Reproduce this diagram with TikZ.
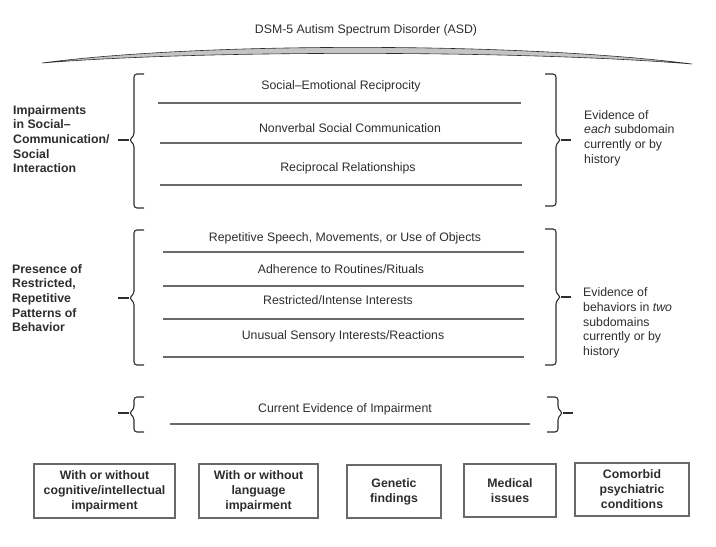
\documentclass[tikz,border=0pt]{standalone}
\usepackage{fontspec}
\setmainfont{Liberation Sans}
\usepackage{tikz}
\usetikzlibrary{positioning}
\definecolor{myink}{RGB}{45,45,45}
\definecolor{myrule}{RGB}{105,105,105}
\definecolor{myarc}{RGB}{196,196,196}
\tikzstyle{itemtext}=[text=myink,font=\fontsize{12.3}{14.7}\selectfont,inner sep=0pt]
\tikzstyle{domainlabel}=[text=myink,font=\fontsize{12.3}{14.7}\selectfont\bfseries,align=left,anchor=west,inner sep=0pt]
\tikzstyle{evidence}=[text=myink,font=\fontsize{12.3}{14.7}\selectfont,align=left,anchor=west,inner sep=0pt]
\tikzstyle{specifier}=[draw=myrule,line width=1.1pt,text=myink,font=\fontsize{12.3}{15}\selectfont\bfseries,align=center,inner sep=0pt]
\tikzstyle{itemrule}=[myrule,line width=1.2pt]
\tikzstyle{brktline}=[myink,line width=1.1pt,rounded corners=3pt]
% x, top, middle, bottom
\newcommand{\leftbrkt}[4]{%
  \draw[brktline] (#1+10,#2) -- (#1,#2) -- (#1,#3-4) -- (#1-5,#3) -- (#1,#3+4) -- (#1,#4) -- (#1+10,#4);
  \draw[brktline] (#1-5,#3) -- (#1-16,#3);}
\newcommand{\rightbrkt}[4]{%
  \draw[brktline] (#1-11,#2) -- (#1,#2) -- (#1,#3-4) -- (#1+5,#3) -- (#1,#3+4) -- (#1,#4) -- (#1-11,#4);
  \draw[brktline] (#1+5,#3) -- (#1+15,#3);}

\begin{document}
\begin{tikzpicture}[x=1pt,y=-1pt]
\useasboundingbox (0,0) rectangle (716,547);

% heading
\node [itemtext] (asd) at (366,30) {DSM-5 Autism Spectrum Disorder (ASD)};
\draw [myink,fill=myarc,line width=0.6pt] (42,63) .. controls (200,42) and (520,42) .. (692,64)
  .. controls (520,50) and (200,50) .. (42,63) -- cycle;

% social communication
\node [domainlabel] (social) at (13,139) {Impairments\\in Social--\\Communication/\\Social\\Interaction};
\leftbrkt{134}{74}{140}{208}
\node [itemtext] (recip) at (341,86) {Social--Emotional Reciprocity};
\draw [itemrule] (158,103) -- (521,103);
\node [itemtext] (nonverbal) at (350,128) {Nonverbal Social Communication};
\draw [itemrule] (160,143) -- (522,143);
\node [itemtext] (relations) at (348,168) {Reciprocal Relationships};
\draw [itemrule] (160,185) -- (522,185);
\rightbrkt{556}{74}{140}{206}
\node [evidence] (each) at (584,138) {Evidence of\\\emph{each} subdomain\\currently or by\\history};

% restricted repetitive behavior
\node [domainlabel] (repet) at (12,298) {Presence of\\Restricted,\\Repetitive\\Patterns of\\Behavior};
\leftbrkt{134}{230}{298}{365}
\node [itemtext] (speech) at (345,238) {Repetitive Speech, Movements, or Use of Objects};
\draw [itemrule] (163,252) -- (524,252);
\node [itemtext] (routines) at (341,269) {Adherence to Routines/Rituals};
\draw [itemrule] (163,286) -- (524,286);
\node [itemtext] (interests) at (338,300) {Restricted/Intense Interests};
\draw [itemrule] (163,319) -- (524,319);
\node [itemtext] (sensory) at (343,336) {Unusual Sensory Interests/Reactions};
\draw [itemrule] (163,357) -- (524,357);
\rightbrkt{556}{229}{297}{365}
\node [evidence] (two) at (583,323) {Evidence of\\behaviors in \emph{two}\\subdomains\\currently or by\\history};

% current impairment
\leftbrkt{134}{397}{413}{432}
\node [itemtext] (current) at (345,409) {Current Evidence of Impairment};
\draw [itemrule] (170,424) -- (530,424);
\rightbrkt{558}{397}{413}{432}

% specifiers
\node [specifier,minimum width=141pt,minimum height=54pt] (cognitive) at (104.5,491) {With or without\\cognitive/intellectual\\impairment};
\node [specifier,minimum width=119pt,minimum height=54pt] (language) at (258.5,491) {With or without\\language\\impairment};
\node [specifier,minimum width=94pt,minimum height=53pt] (genetic) at (394,491.5) {Genetic\\findings};
\node [specifier,minimum width=92pt,minimum height=53pt] (medical) at (510,490.5) {Medical\\issues};
\node [specifier,minimum width=114pt,minimum height=53pt] (comorbid) at (632,489.5) {Comorbid\\psychiatric\\conditions};
\end{tikzpicture}
\end{document}
